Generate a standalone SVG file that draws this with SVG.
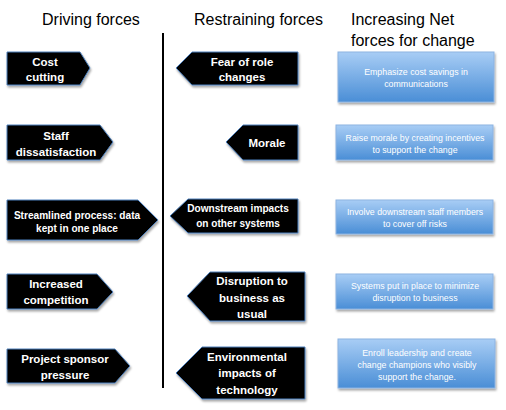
<svg xmlns="http://www.w3.org/2000/svg" width="506" height="410" viewBox="0 0 506 410">
<defs>
<linearGradient id="bg" x1="0" y1="0" x2="0" y2="1">
<stop offset="0" stop-color="#a8cdf5"/>
<stop offset="1" stop-color="#4a8ed6"/>
</linearGradient>
<filter id="sh" x="-10%" y="-10%" width="125%" height="135%">
<feDropShadow dx="1" dy="2" stdDeviation="1.2" flood-color="#000" flood-opacity="0.35"/>
</filter>
</defs>
<style>
.t{font-family:"Liberation Sans",Arial,sans-serif;font-size:16px;fill:#000}
.arrow{fill:#000;stroke:#4f81bd;stroke-width:1;filter:url(#sh)}
.at{font-family:"Liberation Sans",Arial,sans-serif;font-size:11.5px;font-weight:bold;fill:#fff;text-anchor:middle}
.sm{font-size:10.1px}
.box{fill:url(#bg);stroke:#8db3e2;stroke-width:1;filter:url(#sh)}
.bt{font-family:"Liberation Sans",Arial,sans-serif;font-size:8.8px;fill:#fff;text-anchor:middle}
</style>
<rect width="506" height="410" fill="#fff"/>
<g id="headers">
<text class="t" x="42" y="25">Driving forces</text>
<text class="t" x="194" y="25">Restraining forces</text>
<text class="t" x="351" y="25">Increasing Net</text>
<text class="t" x="351" y="46">forces for change</text>
</g>
<g id="connectors">
<line x1="163" y1="33" x2="163" y2="388" stroke="#000" stroke-width="2"/>
</g>
<g id="d1"><path class="arrow" d="M7,52 H80 L90,68 L80,85 H7 Z"/>
<text class="at" x="45" y="66">Cost</text><text class="at" x="45" y="81">cutting</text></g>
<g id="d2"><path class="arrow" d="M7,125 H100 L113,142 L100,160 H7 Z"/>
<text class="at" x="56" y="140">Staff</text><text class="at" x="56" y="156">dissatisfaction</text></g>
<g id="d3"><path class="arrow" d="M7,200 H138 L158,220 L138,240 H7 Z"/>
<text class="at sm" x="77" y="219">Streamlined process: data</text><text class="at sm" x="77" y="232">kept in one place</text></g>
<g id="d4"><path class="arrow" d="M7,274 H97 L113,292 L97,309 H7 Z"/>
<text class="at" x="56" y="288">Increased</text><text class="at" x="56" y="304">competition</text></g>
<g id="d5"><path class="arrow" d="M7,349 H115 L130,366 L115,383 H7 Z"/>
<text class="at" x="65" y="363">Project sponsor</text><text class="at" x="65" y="379">pressure</text></g>
<g id="r1"><path class="arrow" d="M298,52 H192 L176,68 L192,85 H298 Z"/>
<text class="at" x="242" y="66">Fear of role</text><text class="at" x="242" y="81">changes</text></g>
<g id="r2"><path class="arrow" d="M298,125 H243 L226,142 L243,160 H298 Z"/>
<text class="at" x="267" y="147">Morale</text></g>
<g id="r3"><path class="arrow" d="M298,199 H188 L170,216 L188,233 H298 Z"/>
<text class="at sm" x="238" y="212">Downstream impacts</text><text class="at sm" x="238" y="227">on other systems</text></g>
<g id="r4"><path class="arrow" d="M305,272 H210 L187,296 L210,321 H305 Z"/>
<text class="at" x="252" y="285">Disruption to</text><text class="at" x="252" y="302">business as</text><text class="at" x="252" y="318">usual</text></g>
<g id="r5"><path class="arrow" d="M305,347 H202 L176,373 L202,399 H305 Z"/>
<text class="at" x="247" y="361">Environmental</text><text class="at" x="247" y="377">impacts of</text><text class="at" x="247" y="394">technology</text></g>
<g id="b1"><rect class="box" x="338" y="52" width="156" height="50"/>
<text class="bt" x="416" y="75">Emphasize cost savings in</text><text class="bt" x="416" y="87">communications</text></g>
<g id="b2"><rect class="box" x="336" y="125" width="157" height="35"/>
<text class="bt" x="415" y="141">Raise morale by creating incentives</text><text class="bt" x="415" y="153">to support the change</text></g>
<g id="b3"><rect class="box" x="336" y="200" width="157" height="34"/>
<text class="bt" x="415" y="215">Involve downstream staff members</text><text class="bt" x="415" y="227">to cover off risks</text></g>
<g id="b4"><rect class="box" x="336" y="274" width="157" height="35"/>
<text class="bt" x="415" y="289">Systems put in place to minimize</text><text class="bt" x="415" y="301">disruption to business</text></g>
<g id="b5"><rect class="box" x="338" y="339" width="157" height="49"/>
<text class="bt" x="417" y="356">Enroll leadership and create</text><text class="bt" x="417" y="368">change champions who visibly</text><text class="bt" x="417" y="380">support the change.</text></g>
</svg>
